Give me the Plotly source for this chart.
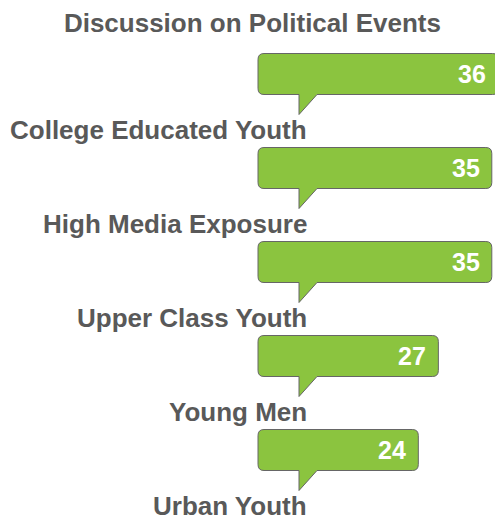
import plotly.graph_objects as go

categories = ["College Educated Youth", "High Media Exposure", "Upper Class Youth",
              "Young Men", "Urban Youth"]
values = [36, 35, 35, 27, 24]
title = "Discussion on Political Events"

W, H = 495, 519
PX_PER_UNIT = 6.68      # horizontal pixels per value unit
X0_PX = 258             # pixel where value 0 sits
ROW_PX = 94             # vertical pixels per row
ROW0_PX = 74            # pixel centre of first bubble

GREEN = "#8BC43F"
EDGE = "#666666"
GREY = "#595959"
FONT = "Liberation Sans, Arial, sans-serif"

x_range = [-X0_PX / PX_PER_UNIT, (W - X0_PX) / PX_PER_UNIT]
y_range = [(H - ROW0_PX) / ROW_PX, -ROW0_PX / ROW_PX]

ux = 1 / PX_PER_UNIT    # one pixel in x units
uy = 1 / ROW_PX         # one pixel in y units


def bubble_path(v, i):
    top = i - 20.5 * uy
    bot = i + 20.5 * uy
    left, right = 0, v
    rx, ry = 6 * ux, 6 * uy
    t0, t1 = 41 * ux, 59 * ux
    tip = bot + 20 * uy
    return (f"M {left + rx},{top} L {right - rx},{top} "
            f"Q {right},{top} {right},{top + ry} "
            f"L {right},{bot - ry} Q {right},{bot} {right - rx},{bot} "
            f"L {t1},{bot} L {t0},{tip} L {t0},{bot} "
            f"L {left + rx},{bot} Q {left},{bot} {left},{bot - ry} "
            f"L {left},{top + ry} Q {left},{top} {left + rx},{top} Z")


fig = go.Figure()
# invisible trace so the axes exist
fig.add_trace(go.Scatter(x=values, y=list(range(len(values))), mode="markers",
                         marker=dict(opacity=0), hoverinfo="skip", showlegend=False))

shapes, annotations = [], []
for i, (cat, v) in enumerate(zip(categories, values)):
    shapes.append(dict(type="path", path=bubble_path(v, i), xref="x", yref="y",
                       fillcolor=GREEN, line=dict(color=EDGE, width=1), layer="above"))
    annotations.append(dict(x=v - 10 * ux, y=i, xref="x", yref="y", text=f"<b>{v}</b>",
                            showarrow=False, xanchor="right", yanchor="middle",
                            font=dict(family=FONT, size=25, color="white")))
    annotations.append(dict(x=51 * ux, y=i + 56 * uy, xref="x", yref="y",
                            text=f"<b>{cat}</b>", showarrow=False,
                            xanchor="right", yanchor="middle",
                            font=dict(family=FONT, size=26, color=GREY)))

fig.update_layout(
    width=W, height=H,
    margin=dict(l=0, r=0, t=0, b=0),
    paper_bgcolor="white", plot_bgcolor="white",
    title=dict(text=f"<b>{title}</b>", x=0.51, xanchor="center", y=1 - 23 / H,
               yanchor="middle", font=dict(family=FONT, size=26, color=GREY)),
    xaxis=dict(range=x_range, visible=False, fixedrange=True),
    yaxis=dict(range=y_range, visible=False, fixedrange=True),
    shapes=shapes, annotations=annotations,
    showlegend=False,
)

fig.write_html("out.html", config={"displayModeBar": False},
               post_script="document.body.style.margin='0';"
                           "document.body.style.overflow='hidden';")
